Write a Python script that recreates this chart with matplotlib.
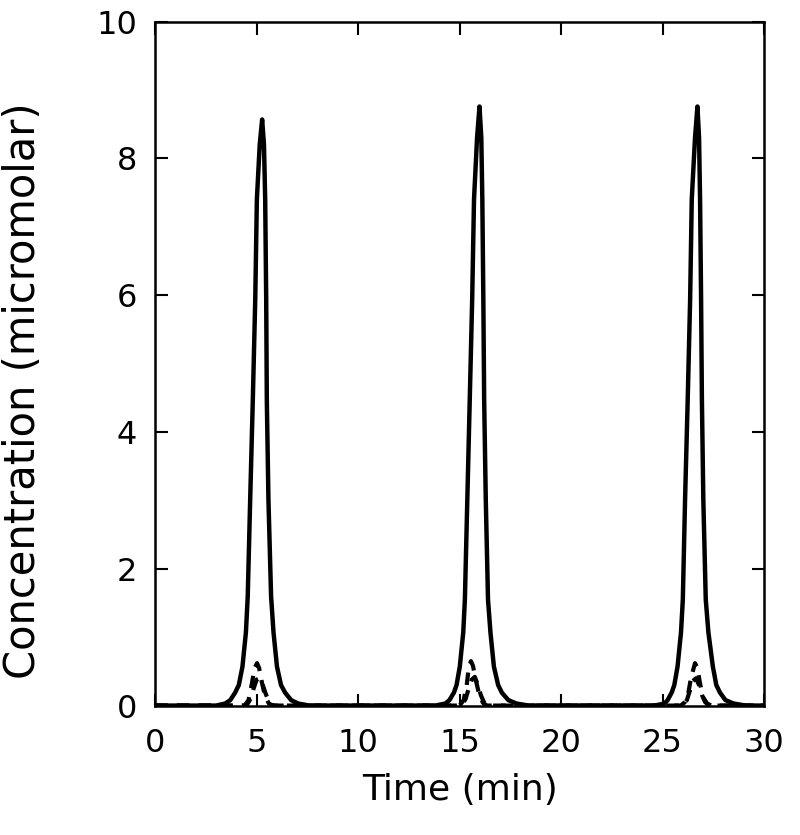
import matplotlib
matplotlib.use("Agg")
import matplotlib.pyplot as plt

# ---- data (time in min, concentration in micromolar) ----
solid_time = [0.0, 3.0, 3.45, 3.7, 3.94, 4.12, 4.30, 4.47, 4.56, 4.68, 4.81, 4.93, 5.01, 5.15, 5.27,
              5.36, 5.42, 5.47, 5.50, 5.58, 5.71, 5.83, 6.00, 6.20, 6.40, 6.70, 7.04, 7.6,
              13.8, 14.3, 14.5, 14.72, 14.85, 15.01, 15.18, 15.26, 15.38, 15.50, 15.62, 15.71, 15.86, 15.98,
              16.07, 16.12, 16.17, 16.21, 16.29, 16.40, 16.52, 16.69, 16.90, 17.08, 17.4, 17.8, 18.4,
              24.6, 25.1, 25.25, 25.45, 25.58, 25.74, 25.91, 26.00, 26.11, 26.24, 26.36, 26.44, 26.60, 26.72,
              26.80, 26.85, 26.90, 26.94, 27.01, 27.13, 27.26, 27.48, 27.65, 27.83, 28.1, 28.5, 29.1, 30.0]
solid_conc = [0.0, 0.0, 0.03, 0.08, 0.19, 0.30, 0.57, 1.07, 1.60, 3.01, 4.47, 5.94, 7.40, 8.20, 8.57,
              8.20, 7.40, 5.94, 4.47, 3.01, 1.60, 1.07, 0.57, 0.30, 0.19, 0.08, 0.03, 0.0,
              0.0, 0.03, 0.08, 0.19, 0.30, 0.57, 1.07, 1.55, 3.01, 4.47, 5.94, 7.40, 8.30, 8.76,
              8.30, 7.40, 5.94, 4.47, 3.01, 1.55, 1.07, 0.57, 0.30, 0.19, 0.08, 0.03, 0.0,
              0.0, 0.03, 0.08, 0.19, 0.30, 0.57, 1.07, 1.55, 3.01, 4.47, 5.94, 7.40, 8.30, 8.76,
              8.30, 7.40, 5.94, 4.47, 3.01, 1.55, 1.07, 0.57, 0.30, 0.19, 0.08, 0.03, 0.0, 0.0]

dashA_time = [0.0, 4.4, 4.6, 4.75, 4.9, 5.02, 5.12, 5.25, 5.4, 5.6, 5.8,
              15.0, 15.2, 15.35, 15.45, 15.56, 15.66, 15.78, 15.95, 16.15, 16.35,
              25.9, 26.1, 26.25, 26.4, 26.6, 26.72, 26.85, 27.0, 27.2, 27.4, 30.0]
dashA_conc = [0.0, 0.0, 0.08, 0.30, 0.55, 0.62, 0.55, 0.35, 0.15, 0.03, 0.0,
              0.0, 0.08, 0.30, 0.55, 0.65, 0.58, 0.40, 0.18, 0.04, 0.0,
              0.0, 0.05, 0.15, 0.40, 0.62, 0.55, 0.32, 0.12, 0.03, 0.0, 0.0]

dashB_time = [0.0, 4.5, 4.7, 4.85, 5.0, 5.15, 5.3, 5.45, 5.6, 5.8,
              15.1, 15.3, 15.45, 15.6, 15.75, 15.9, 16.05, 16.2, 16.4,
              26.0, 26.2, 26.35, 26.5, 26.65, 26.8, 26.95, 27.1, 27.3, 30.0]
dashB_conc = [0.0, 0.0, 0.10, 0.25, 0.38, 0.40, 0.30, 0.17, 0.06, 0.0,
              0.0, 0.10, 0.25, 0.38, 0.42, 0.30, 0.15, 0.05, 0.0,
              0.0, 0.08, 0.22, 0.36, 0.40, 0.30, 0.15, 0.05, 0.0, 0.0]

x_ticks = [0, 5, 10, 15, 20, 25, 30]
y_ticks = [0, 2, 4, 6, 8, 10]

fig = plt.figure(figsize=(8.0, 8.35), dpi=100)
ax = fig.add_axes([0.194, 0.155, 0.761, 0.819])

ax.plot(solid_time, solid_conc, color="black", lw=3.2, solid_joinstyle="round")
ax.plot(dashA_time, dashA_conc, color="black", lw=3.0, dashes=(3, 2.2))
ax.plot(dashB_time, dashB_conc, color="black", lw=3.0, dashes=(3, 2.2))

ax.set_xlim(0, 30)
ax.set_ylim(0, 10)
ax.set_xticks(x_ticks)
ax.set_yticks(y_ticks)
ax.tick_params(direction="in", length=9, width=1.5, top=True, right=True,
               labelsize=23)
ax.tick_params(axis="x", pad=16)
ax.tick_params(axis="y", pad=13)
for s in ax.spines.values():
    s.set_linewidth(1.8)

ax.set_xlabel("Time (min)", fontsize=26, labelpad=10)
ax.set_ylabel("Concentration (micromolar)", fontsize=30)
ax.yaxis.set_label_coords(-0.183, 0.46)

fig.savefig("out.png", dpi=100)
